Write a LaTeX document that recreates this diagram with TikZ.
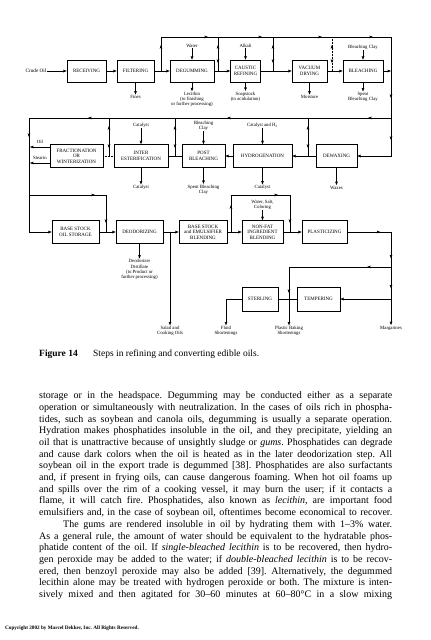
\documentclass[tikz,border=0pt]{standalone}
\usepackage{fontspec}
\setmainfont{Liberation Serif}
\usetikzlibrary{arrows.meta,decorations.markings}
\newcommand\bxfont{\fontsize{5}{5.6}\selectfont}
\newcommand\lbfont{\fontsize{4.8}{5.3}\selectfont}
\frenchspacing
\begin{document}
\begin{tikzpicture}[x=1pt,y=-1pt,
  >={Stealth[length=3.5pt,width=2.7pt,inset=0.5pt]},
  ln/.style={line width=0.5pt},
  flow/.style={ln,->},
  pbox/.style={draw,line width=0.65pt,inner sep=0.5pt,align=center,font=\bxfont},
  lab/.style={inner sep=0.6pt,align=center,font=\lbfont},
  am/.style={postaction={decorate,decoration={markings,mark=at position #1 with {\arrow{>}}}}},
  amr/.style={postaction={decorate,decoration={markings,mark=at position #1 with {\arrowreversed{>}}}}},
  dbl/.style={ln,amr=8pt,am=-8pt}]
\fill[white] (0,0) rectangle (431,640);
\useasboundingbox (0,0) rectangle (431,640);

% ================= nodes =================
% row 1
\node[lab,font=\fontsize{5.2}{6}\selectfont] (crude) at (36,71) {Crude Oil};
\node[pbox,minimum width=39pt,minimum height=22pt] (recv) at (86.5,71) {RECEIVING};
\node[pbox,minimum width=37pt,minimum height=22pt] (filt) at (135.5,71) {FILTERING};
\node[pbox,minimum width=44pt,minimum height=22pt] (degum) at (192,71) {DEGUMMING};
\node[pbox,minimum width=30pt,minimum height=22pt] (caustic) at (245.5,71) {CAUSTIC\\REFINING};
\node[pbox,minimum width=35pt,minimum height=22pt] (vacuum) at (309.5,71) {VACUUM\\DRYING};
\node[pbox,minimum width=40pt,minimum height=22pt] (bleach) at (363,71) {BLEACHING};

\node[lab] (water) at (192,46) {Water};
\node[lab] (alkali) at (245.5,45.5) {Alkali};
\node[lab] (bclay1) at (363,47) {Bleaching Clay};
\node[lab] (fines) at (135.5,97) {Fines};
\node[lab] (lecithin) at (192,99.5) {Lecithin\\(to finishing\\or further processing)};
\node[lab] (soap) at (245.5,96.5) {Soapstock\\(to acidulation)};
\node[lab] (moist) at (309.5,97) {Moisture};
\node[lab] (spent1) at (363,97) {Spent\\Bleaching Clay};

% row 2
\node[pbox,minimum width=53pt,minimum height=23pt] (fract) at (76.5,156) {FRACTIONATION\\OR\\WINTERIZATION};
\node[pbox,minimum width=54pt,minimum height=23pt] (inter) at (141,156) {INTER\\ESTERIFICATION};
\node[pbox,minimum width=43pt,minimum height=23pt] (post) at (203.5,156) {POST\\BLEACHING};
\node[pbox,minimum width=59pt,minimum height=23pt] (hydro) at (262.5,156) {HYDROGENATION};
\node[pbox,minimum width=41pt,minimum height=23pt] (dewax) at (336.5,156) {DEWAXING};

\node[lab] (oil) at (40,142) {Oil};
\node[lab] (stearin) at (40,158) {Stearin};
\node[lab] (cat1) at (141,125) {Catalyst};
\node[lab] (bclay2) at (203.5,125.5) {Bleaching\\Clay};
\node[lab] (cath2) at (262.5,125) {Catalyst and H\textsubscript{2}};
\node[lab] (cat2) at (141,187.5) {Catalyst};
\node[lab] (spent2) at (203.5,189.5) {Spent Bleaching\\Clay};
\node[lab] (cat3) at (262.5,187.5) {Catalyst};
\node[lab] (waxes) at (336.5,187.5) {Waxes};

% row 3
\node[pbox,minimum width=47pt,minimum height=23pt] (storage) at (75.5,232) {BASE STOCK\\OIL STORAGE};
\node[pbox,minimum width=47pt,minimum height=23pt] (deodor) at (139.5,232) {DEODORIZING};
\node[pbox,minimum width=48pt,minimum height=23pt] (bsemul) at (203,232) {BASE STOCK\\and EMULSIFIER\\BLENDING};
\node[pbox,minimum width=41pt,minimum height=23pt] (nonfat) at (262.5,232) {NON-FAT\\INGREDIENT\\BLENDING};
\node[pbox,minimum width=45pt,minimum height=23pt] (plast) at (324.5,232) {PLASTICIZING};

\node[lab] (wsc) at (262.5,204.5) {Water, Salt,\\Coloring};
\node[lab] (distil) at (139.5,269.5) {Deodorizer\\Distillate\\(to Product or\\further processing)};

% row 4
\node[pbox,minimum width=36pt,minimum height=24pt] (sterl) at (260,299) {STERLING};
\node[pbox,minimum width=43pt,minimum height=24pt] (temper) at (318.5,299) {TEMPERING};

\node[lab] (salad) at (170,331) {Salad and\\Cooking Oils};
\node[lab] (fluid) at (226,331) {Fluid\\Shortenings};
\node[lab] (plastic) at (289,331) {Plastic Baking\\Shortenings};
\node[lab] (marg) at (391,328) {Margarines};

% ================= junction points =================
\coordinate (jF) at (161,71); \coordinate (tF) at (161,37);
\coordinate (tR) at (391,37); \coordinate (rD) at (391,156);
\coordinate (bR) at (391,71);
\coordinate (tD) at (218,37); \coordinate (jD) at (218,71);
\coordinate (tC) at (273,37); \coordinate (jC) at (273,71);
\coordinate (tV) at (332,37); \coordinate (jV) at (332,71);

\coordinate (rJ) at (391,118); \coordinate (lT) at (29,118); \coordinate (lB) at (29,232);
\coordinate (v1t) at (109,118); \coordinate (v1b) at (109,156);
\coordinate (v2t) at (175,118); \coordinate (v2b) at (175,156);
\coordinate (v3t) at (308,118); \coordinate (v3b) at (308,156);
\coordinate (oA) at (50,147); \coordinate (oB) at (30,147);
\coordinate (sA) at (50,163); \coordinate (sB) at (30,163);

\coordinate (lM) at (29,195); \coordinate (dT) at (106,195); \coordinate (dJ) at (106,232);
\coordinate (sJ) at (170,232);
\coordinate (eJ) at (231,232); \coordinate (eT1) at (231,195);
\coordinate (eT2) at (290,195); \coordinate (pJ) at (290,232);
\coordinate (mR) at (391,232);

\coordinate (k1) at (391,267); \coordinate (k1b) at (289,267);
\coordinate (k2) at (391,299); \coordinate (fJ) at (226,299);

% ================= connectors =================
% row 1
\draw[flow] (crude) -- (recv);
\draw[flow] (recv) -- (filt);
\draw[flow] (filt) -- (degum);
\draw[flow] (degum) -- (caustic);
\draw[flow] (caustic) -- (vacuum);
\draw[flow] (vacuum) -- (bleach);
\draw[flow] (bleach.east) -- (bR);
\draw[flow,am=26pt,am=81pt,am=135pt,am=195pt,am=246pt,am=325pt,am=367pt]
  (jF) -- (tF) -- (tR) -- (rD) -- (dewax.east);
\draw[dbl] (tD) -- (jD);
\draw[dbl] (tC) -- (jC);
\draw[dbl,densely dotted] (tV) -- (jV);

\draw[flow] (water) -- (degum);
\draw[flow] (alkali) -- (caustic);
\draw[flow] (bclay1) -- (bleach);
\draw[flow] (filt) -- (fines);
\draw[flow] (degum) -- (lecithin);
\draw[flow] (caustic) -- (soap);
\draw[flow] (vacuum) -- (moist);
\draw[flow] (bleach) -- (spent1);

% row 2
\draw[flow,am=23pt,am=164pt,am=303pt,am=381pt] (rJ) -- (lT) -- (lB) -- (storage.west);
\draw[dbl] (v1t) -- (v1b);
\draw[dbl] (v2t) -- (v2b);
\draw[dbl] (v3t) -- (v3b);
\draw[ln,densely dotted] (fract) -- (inter);
\draw[ln] (inter) -- (post);
\draw[flow] (hydro) -- (post);
\draw[flow] (dewax) -- (hydro);
\draw[flow] (oA) -- (oB);
\draw[flow] (sA) -- (sB);
\draw[flow] (cat1) -- (inter);
\draw[flow] (bclay2) -- (post);
\draw[flow] (cath2) -- (hydro);
\draw[flow] (inter) -- (cat2);
\draw[flow] (post) -- (spent2);
\draw[flow] (hydro) -- (cat3);
\draw[flow] (dewax) -- (waxes);

% row 3
\draw[ln,am=66pt,am=105pt] (lM) -- (dT) -- (dJ);
\draw[flow] (storage) -- (deodor);
\draw[flow] (deodor) -- (bsemul);
\draw[flow] (deodor) -- (distil);
\draw[ln,am=27pt,am=84pt,am=124pt] (eJ) -- (eT1) -- (eT2) -- (pJ);
\draw[flow] (bsemul) -- (nonfat);
\draw[flow] (nonfat) -- (plast);
\draw[flow] (wsc) -- (nonfat);

% row 4
\draw[flow] (sJ) -- (salad.north);
\draw[flow,am=33pt,am=70pt,am=100pt] (plast.east) -- (mR) -- (marg.north);
\draw[flow,am=24pt,am=128pt] (k1) -- (k1b) -- (plastic.north);
\draw[flow] (k2) -- (temper.east);
\draw[ln] (temper) -- (sterl);
\draw[flow] (sterl.west) -- (fJ) -- (fluid.north);

% ================= caption and text =================
\node[inner sep=0pt,anchor=base west,font=\fontsize{9.5}{11}\selectfont\bfseries] (figno) at (39,356) {Figure 14};
\node[inner sep=0pt,anchor=base west,font=\fontsize{9.5}{11}\selectfont] (figcap) at (93,356) {Steps in refining and converting edible oils.};

\node[inner sep=0pt,anchor=north west] (body) at (39,391.5) {\begin{minipage}{353pt}\fontsize{10}{11.7}\selectfont\frenchspacing\parfillskip=0pt\parindent=0pt
storage or in the headspace. Degumming may be conducted either as a separate\linebreak
operation or simultaneously with neutralization. In the cases of oils rich in phospha-\linebreak
tides, such as soybean and canola oils, degumming is usually a separate operation.\linebreak
Hydration makes phosphatides insoluble in the oil, and they precipitate, yielding an\linebreak
oil that is unattractive because of unsightly sludge or \emph{gums}. Phosphatides can degrade\linebreak
and cause dark colors when the oil is heated as in the later deodorization step. All\linebreak
soybean oil in the export trade is degummed [38]. Phosphatides are also surfactants\linebreak
and, if present in frying oils, can cause dangerous foaming. When hot oil foams up\linebreak
and spills over the rim of a cooking vessel, it may burn the user; if it contacts a\linebreak
flame, it will catch fire. Phosphatides, also known as \emph{lecithin}, are important food\linebreak
emulsifiers and, in the case of soybean oil, oftentimes become economical to recover.\par
\hspace*{24pt}The gums are rendered insoluble in oil by hydrating them with 1--3\% water.\linebreak
As a general rule, the amount of water should be equivalent to the hydratable phos-\linebreak
phatide content of the oil. If \emph{single-bleached lecithin} is to be recovered, then hydro-\linebreak
gen peroxide may be added to the water; if \emph{double-bleached lecithin} is to be recov-\linebreak
ered, then benzoyl peroxide may also be added [39]. Alternatively, the degummed\linebreak
lecithin alone may be treated with hydrogen peroxide or both. The mixture is inten-\linebreak
sively mixed and then agitated for 30--60 minutes at 60--80°C in a slow mixing\par
\end{minipage}};

\node[inner sep=0pt,anchor=west,font=\fontsize{5.2}{6}\selectfont\bfseries] (copy) at (5,628) {Copyright 2002 by Marcel Dekker, Inc. All Rights Reserved.};
\end{tikzpicture}
\end{document}
